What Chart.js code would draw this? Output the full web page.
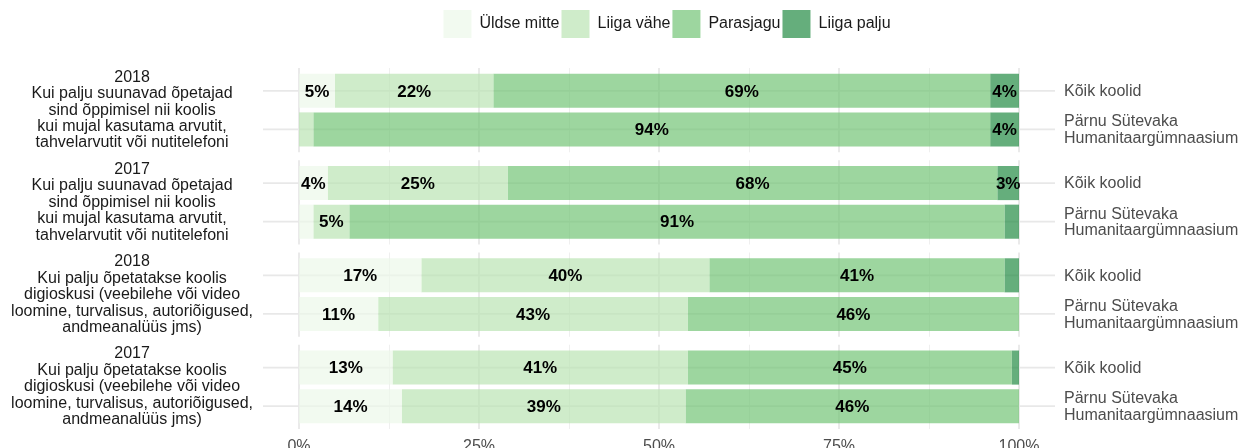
<!DOCTYPE html>
<html>
<head>
<meta charset="utf-8">
<script src="https://cdn.jsdelivr.net/npm/chart.js@4/dist/chart.umd.min.js"></script>
<style>
  html, body { margin: 0; padding: 0; background: #ffffff; }
  #wrap { width: 1242px; height: 448px; position: relative; }
  canvas { display: block; }
</style>
</head>
<body>
<div id="wrap"><canvas id="c" width="1242" height="448"></canvas></div>
<script>
// ---- data ----
const questions = [
  ['2018', 'Kui palju suunavad õpetajad', 'sind õppimisel nii koolis', 'kui mujal kasutama arvutit,', 'tahvelarvutit või nutitelefoni'],
  ['2017', 'Kui palju suunavad õpetajad', 'sind õppimisel nii koolis', 'kui mujal kasutama arvutit,', 'tahvelarvutit või nutitelefoni'],
  ['2018', 'Kui palju õpetatakse koolis', 'digioskusi (veebilehe või video', 'loomine, turvalisus, autoriõigused,', 'andmeanalüüs jms)'],
  ['2017', 'Kui palju õpetatakse koolis', 'digioskusi (veebilehe või video', 'loomine, turvalisus, autoriõigused,', 'andmeanalüüs jms)']
];
const schools = ['Kõik koolid', ['Pärnu Sütevaka', 'Humanitaargümnaasium']];
const answers = ['Üldse mitte', 'Liiga vähe', 'Parasjagu', 'Liiga palju'];

const koikUldseMitte = [5, 4, 17, 13];
const koikLiigaVahe  = [22, 25, 40, 41];
const koikParasjagu  = [69, 68, 41, 45];
const koikLiigaPalju = [4, 3, 2, 1];

const parnuUldseMitte = [0, 2, 11, 14.3];
const parnuLiigaVahe  = [2, 5, 43, 39.4];
const parnuParasjagu  = [94, 91, 46, 46.3];
const parnuLiigaPalju = [4, 2, 0, 0];

const xTicks = [0, 25, 50, 75, 100];

// ---- styles ----
const FONT = '"Liberation Sans", Arial, Helvetica, sans-serif';
const colors = ['rgba(237,248,233,0.7)', 'rgba(186,228,179,0.7)', 'rgba(116,196,118,0.7)', 'rgba(35,139,69,0.7)'];
const seriesBySchool = [
  [koikUldseMitte, koikLiigaVahe, koikParasjagu, koikLiigaPalju],
  [parnuUldseMitte, parnuLiigaVahe, parnuParasjagu, parnuLiigaPalju]
];

const datasets = [];
seriesBySchool.forEach((series, s) => {
  series.forEach((vals, a) => {
    datasets.push({
      label: answers[a],
      data: vals,
      backgroundColor: colors[a],
      borderWidth: 0,
      stack: 'school' + s,
      categoryPercentage: 0.837,
      barPercentage: 0.883
    });
  });
});

const panelGap = 8;

const gridPlugin = {
  id: 'facetGrid',
  beforeDatasetsDraw(chart) {
    const { ctx, chartArea, scales: { x, y } } = chart;
    const band = y.getPixelForValue(1) - y.getPixelForValue(0);
    const half = band / 2 - panelGap / 2;
    const minor = [];
    for (let i = 0; i < xTicks.length - 1; i++) minor.push((xTicks[i] + xTicks[i + 1]) / 2);
    ctx.save();
    questions.forEach((q, i) => {
      const c = y.getPixelForValue(i);
      ctx.strokeStyle = '#efefef';
      ctx.lineWidth = 1.1;
      minor.forEach(v => {
        const px = Math.round(x.getPixelForValue(v)) + 0.5;
        ctx.beginPath(); ctx.moveTo(px, c - half); ctx.lineTo(px, c + half); ctx.stroke();
      });
      ctx.strokeStyle = '#e8e8e8';
      ctx.lineWidth = 1.8;
      xTicks.forEach(v => {
        const px = x.getPixelForValue(v);
        ctx.beginPath(); ctx.moveTo(px, c - half); ctx.lineTo(px, c + half); ctx.stroke();
      });
    });
    ctx.strokeStyle = '#e8e8e8';
    ctx.lineWidth = 1.8;
    [0, 4].forEach(di => {
      chart.getDatasetMeta(di).data.forEach(bar => {
        ctx.beginPath(); ctx.moveTo(chartArea.left, bar.y); ctx.lineTo(chartArea.right, bar.y); ctx.stroke();
      });
    });
    ctx.restore();
  },
  afterDatasetsDraw(chart) {
    const { ctx, chartArea } = chart;
    ctx.save();
    ctx.font = 'bold 17px ' + FONT;
    ctx.fillStyle = '#000000';
    ctx.textAlign = 'center';
    ctx.textBaseline = 'middle';
    chart.data.datasets.forEach((ds, di) => {
      const meta = chart.getDatasetMeta(di);
      meta.data.forEach((bar, i) => {
        const v = ds.data[i];
        if (v >= 3) {
          ctx.fillText(Math.round(v) + '%', (bar.x + bar.base) / 2, bar.y + 1);
        }
      });
    });
    ctx.font = '16px ' + FONT;
    ctx.fillStyle = '#4d4d4d';
    ctx.textAlign = 'left';
    const lh = 16.7;
    [0, 4].forEach((di, s) => {
      const lines = [].concat(schools[s]);
      chart.getDatasetMeta(di).data.forEach(bar => {
        const y0 = bar.y - (lines.length - 1) * lh / 2 + 1;
        lines.forEach((t, k) => ctx.fillText(t, chartArea.right + 9, y0 + k * lh));
      });
    });
    ctx.restore();
  }
};

const legendPlace = {
  id: 'legendPlace',
  afterLayout(chart) {
    const lg = chart.legend;
    if (!lg) return;
    const dx = 667 - (lg.left + lg.right) / 2;
    lg.left += dx; lg.right += dx;
    lg.top -= 16; lg.bottom -= 16;
  }
};

new Chart(document.getElementById('c'), {
  type: 'bar',
  data: { labels: questions, datasets },
  options: {
    indexAxis: 'y',
    responsive: false,
    animation: false,
    devicePixelRatio: 1,
    layout: { padding: { top: 24, right: 187, left: 0, bottom: 0 } },
    plugins: {
      legend: {
        position: 'top',
        align: 'center',
        labels: {
          boxWidth: 28,
          boxHeight: 28,
          padding: 2,
          color: '#1a1a1a',
          font: { size: 16, family: FONT },
          filter: (item) => item.datasetIndex < 4
        }
      },
      tooltip: { enabled: false }
    },
    scales: {
      x: {
        type: 'linear',
        stacked: true,
        min: -5,
        max: 105,
        afterBuildTicks: (s) => { s.ticks = xTicks.map(v => ({ value: v })); },
        ticks: {
          callback: (v) => v + '%',
          color: '#4d4d4d',
          font: { size: 16, family: FONT },
          padding: 4,
          autoSkip: false,
          maxRotation: 0
        },
        grid: { display: false, drawTicks: false },
        border: { display: false },
        afterFit: (s) => { s.height = 15; s.paddingLeft = 0; s.paddingRight = 0; }
      },
      y: {
        type: 'category',
        stacked: true,
        offset: true,
        grid: { display: false, drawTicks: false },
        border: { display: false },
        ticks: {
          crossAlign: 'center',
          padding: 10,
          color: '#1a1a1a',
          font: { size: 16, family: FONT, lineHeight: 1.03 },
          autoSkip: false
        },
        afterFit: (s) => { s.width = 263; s.paddingTop = 0; s.paddingBottom = 0; }
      }
    }
  },
  plugins: [gridPlugin, legendPlace]
});
</script>
</body>
</html>
